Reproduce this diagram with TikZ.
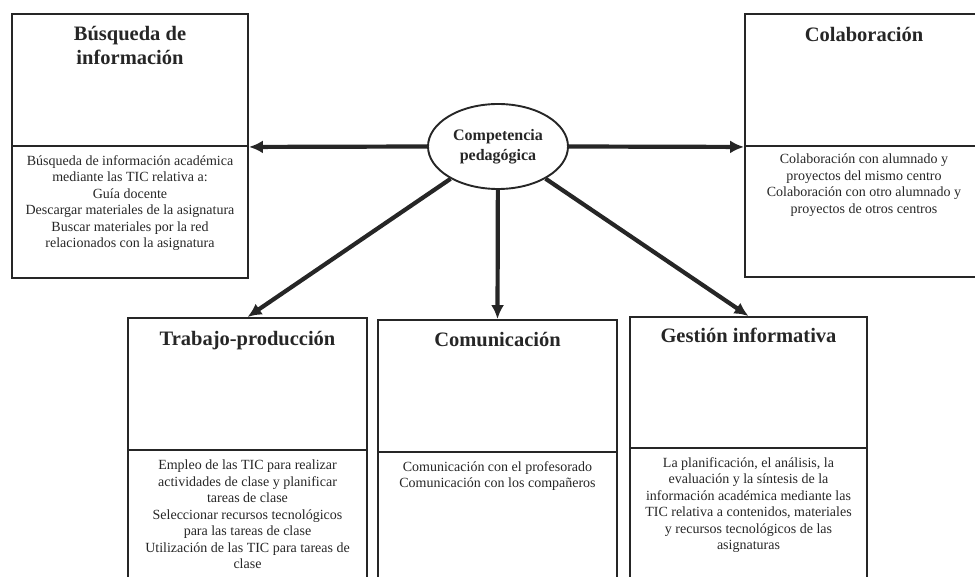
\documentclass[tikz,border=0pt]{standalone}
\usepackage{fontspec}
\setmainfont{Liberation Serif}
\usetikzlibrary{positioning,shapes.geometric,arrows.meta}

\begin{document}
\begin{tikzpicture}[x=1pt, y=-1pt,
        panel/.style={rectangle, draw=black!85, line width=1.9pt, inner sep=0pt, minimum width=237pt, minimum height=132pt},
        heading/.style={align=center, inner sep=0pt, font=\bfseries\fontsize{20.5}{24}\selectfont, text=black!85},
        content/.style={align=center, inner sep=0pt, font=\fontsize{14}{16.5}\selectfont, text=black!85},
        centre/.style={ellipse, draw=black!85, line width=1.9pt, minimum width=140pt, minimum height=85pt, inner sep=0pt, align=center, font=\bfseries\fontsize{16}{20}\selectfont, text=black!85},
        arrow/.style={-{Latex[length=14pt,width=13pt]}, line width=4.2pt, draw=black!85}
    ]
        \useasboundingbox (0,0) rectangle (975,577);
        \clip (0,0) rectangle (975,577);

        % Centre
        \node[centre] (comp) at (498,146.5) {Competencia\\pedagógica};

        % Upper left box
        \node[panel, minimum width=236pt] (busqtop) at (130,80) {};
        \node[panel, minimum width=236pt] (busqbot) at (130,212) {};
        \node[heading, below=13pt of busqtop.north] (busqtitle) {Búsqueda de\\información};
        \node[content, below=10pt of busqbot.north] (busqtext) {Búsqueda de información académica\\mediante las TIC relativa a:\\Guía docente\\Descargar materiales de la asignatura\\Buscar materiales por la red\\relacionados con la asignatura};

        % Upper right box
        \node[panel, minimum width=238pt] (colabtop) at (864,80) {};
        \node[panel, minimum width=238pt, minimum height=131pt] (colabbot) at (864,211.5) {};
        \node[heading, below=14pt of colabtop.north] (colabtitle) {Colaboración};
        \node[content, below=9pt of colabbot.north] (colabtext) {Colaboración con alumnado y\\proyectos del mismo centro\\Colaboración con otro alumnado y\\proyectos de otros centros};

        % Lower row
        \node[panel, minimum width=239pt] (trabtop) at (247.5,384) {};
        \node[panel, minimum width=239pt, minimum height=160pt] (trabbot) at (247.5,530) {};
        \node[heading, below=14pt of trabtop.north] (trabtitle) {Trabajo-producción};
        \node[content, below=11pt of trabbot.north] (trabtext) {Empleo de las TIC para realizar\\actividades de clase y planificar\\tareas de clase\\Seleccionar recursos tecnológicos\\para las tareas de clase\\Utilización de las TIC para tareas de\\clase};

        \node[panel, minimum width=239pt] (comutop) at (497.5,386) {};
        \node[panel, minimum width=239pt, minimum height=158pt] (comubot) at (497.5,531) {};
        \node[heading, below=13pt of comutop.north] (comutitle) {Comunicación};
        \node[content, below=10pt of comubot.north] (comutext) {Comunicación con el profesorado\\Comunicación con los compañeros};

        \node[panel, minimum width=237pt, minimum height=131pt] (gesttop) at (748.5,382.5) {};
        \node[panel, minimum width=237pt, minimum height=162pt] (gestbot) at (748.5,529) {};
        \node[heading, below=12pt of gesttop.north] (gesttitle) {Gestión informativa};
        \node[content, below=10pt of gestbot.north] (gesttext) {La planificación, el análisis, la\\evaluación y la síntesis de la\\información académica mediante las\\TIC relativa a contenidos, materiales\\y recursos tecnológicos de las\\asignaturas};

        % Arrows
        \draw[arrow] (comp.west) -- (busqtop.south east);
        \draw[arrow] (comp.east) -- (colabtop.south west);
        \draw[arrow] (comp) -- (trabtop.north);
        \draw[arrow] (comp) -- (comutop.north);
        \draw[arrow] (comp) -- (gesttop.north);

    \end{tikzpicture}
\end{document}
